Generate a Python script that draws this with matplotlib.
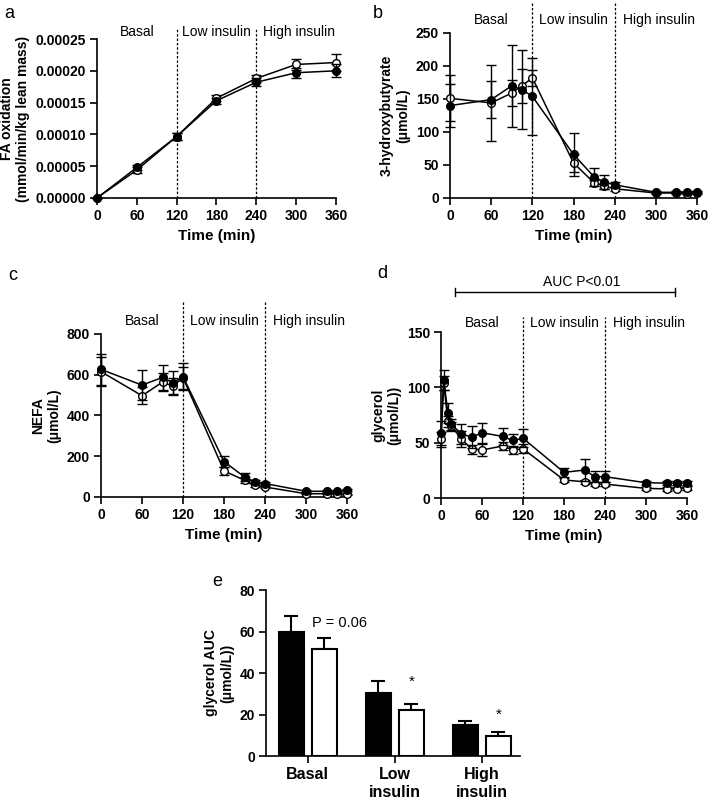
import matplotlib
matplotlib.use('Agg')
import matplotlib.pyplot as plt
from matplotlib.ticker import MultipleLocator, FormatStrFormatter
import numpy as np

plt.rcParams['font.family'] = ['Liberation Sans', 'DejaVu Sans']

# ---- data ----
# a: FA oxidation
t_a = [0, 60, 120, 180, 240, 300, 360]
fa_filled = [0, 0.000048, 0.0000966, 0.000153, 0.000182, 0.000197, 0.0002]
fa_filled_err = [0, 0.000004, 0.000005, 0.000005, 0.000006, 0.000008, 0.00001]
fa_open = [0, 0.000044, 0.0000966, 0.000157, 0.000188, 0.000210, 0.000213]
fa_open_err = [0, 0.000004, 0.000005, 0.000005, 0.000006, 0.000008, 0.000014]

# b: 3-hydroxybutyrate
t_b = [0, 60, 90, 105, 120, 180, 210, 225, 240, 300, 330, 345, 360]
hb_filled = [140, 149, 170, 164, 154, 66, 32, 24, 20, 8.6, 8.6, 9, 8.6]
hb_filled_err = [33, 28, 62, 60, 58, 33, 14, 11, 4, 1.5, 1.5, 1.5, 1.5]
hb_open = [151, 144, 159, 170, 182, 53, 23, 18, 14, 7.5, 7.5, 6.5, 7.5]
hb_open_err = [35, 58, 20, 26, 12, 13, 5, 4, 3, 1, 1, 1, 1]

# c: NEFA
t_c = [0, 60, 90, 105, 120, 180, 210, 225, 240, 300, 330, 345, 360]
nefa_filled = [626, 549, 587, 561, 590, 174, 98, 74, 66, 28, 28, 30, 33]
nefa_filled_err = [75, 75, 62, 59, 66, 28, 20, 10, 8, 4, 4, 4, 4]
nefa_open = [615, 497, 564, 544, 585, 128, 82, 57, 49, 16, 16, 16, 13]
nefa_open_err = [72, 43, 45, 40, 55, 20, 15, 10, 6, 3, 3, 3, 3]

# d: glycerol
t_d = [0, 4, 10, 15, 30, 45, 60, 90, 105, 120, 180, 210, 225, 240, 300, 330, 345, 360]
gly_filled = [59, 107, 77, 66.5, 58, 55, 59, 55.7, 52, 54, 23.2, 25.3, 19.3, 19.3, 13.8, 13.5, 13.5, 13.5]
gly_filled_err = [11, 9, 9, 5, 9, 10, 9, 8, 6, 8, 4, 10, 5, 5, 2, 2, 2, 2]
gly_open = [53, 104, 69.5, 65, 53.3, 44, 43.4, 47, 43.4, 44.5, 16.3, 14.7, 12.6, 12.6, 8.7, 8.3, 8.5, 9]
gly_open_err = [7, 6, 5, 4, 7, 4, 5, 4, 4, 4, 2, 2, 2, 2, 1.5, 1.5, 1.5, 1.5]

# e: glycerol AUC
groups = ['Basal', 'Low\ninsulin', 'High\ninsulin']
auc_filled = [60, 30.5, 15]
auc_filled_err = [7.5, 5.5, 2]
auc_open = [51.5, 22, 9.5]
auc_open_err = [5.5, 3, 2]

phases = ['Basal', 'Low insulin', 'High insulin']
phase_x = [60, 180, 305]

fig = plt.figure(figsize=(7.09, 7.98), dpi=100)


def style(ax):
    for s in ['top', 'right']:
        ax.spines[s].set_visible(False)
    for s in ['left', 'bottom']:
        ax.spines[s].set_linewidth(1.2)
    ax.tick_params(direction='out', length=5, width=1.2, labelsize=10, pad=3)
    for lab in ax.get_xticklabels() + ax.get_yticklabels():
        lab.set_fontweight('bold')


def timecourse(ax, t, yf, ef, yo, eo):
    kw = dict(color='black', lw=1.1, marker='o', ms=5.5, capsize=3.5,
              elinewidth=1, capthick=1, clip_on=False)
    ax.errorbar(t, yo, yerr=eo, mfc='white', mec='black', mew=1, zorder=3, **kw)
    ax.errorbar(t, yf, yerr=ef, mfc='black', mec='black', zorder=4, **kw)
    ax.set_xlim(0, 360)
    ax.xaxis.set_major_locator(MultipleLocator(60))
    ax.set_xlabel('Time (min)', fontsize=11, fontweight='bold', labelpad=4)


def phase_marks(ax, ylab, yline):
    tr = ax.get_xaxis_transform()
    for xv in [120, 240]:
        ax.plot([xv, xv], [0, yline], transform=tr, color='black', lw=0.9,
                ls=(0, (2, 1.5)), clip_on=False, zorder=1)
    for name, xv in zip(phases, phase_x):
        ax.text(xv, ylab, name, transform=tr, ha='center', va='center', fontsize=10)


# a
ax_a = fig.add_axes([0.1368, 0.7519, 0.337, 0.1992])
timecourse(ax_a, t_a, fa_filled, fa_filled_err, fa_open, fa_open_err)
ax_a.set_ylim(0, 0.00025)
ax_a.yaxis.set_major_locator(MultipleLocator(0.00005))
ax_a.yaxis.set_major_formatter(FormatStrFormatter('%.5f'))
ax_a.set_ylabel('FA oxidation\n(mmol/min/kg lean mass)', fontsize=10, fontweight='bold')
phase_marks(ax_a, 1.044, 1.063)
style(ax_a)

# b
ax_b = fig.add_axes([0.6347, 0.7519, 0.3484, 0.2068])
timecourse(ax_b, t_b, hb_filled, hb_filled_err, hb_open, hb_open_err)
ax_b.set_ylim(0, 250)
ax_b.yaxis.set_major_locator(MultipleLocator(50))
ax_b.set_ylabel('3-hydroxybutyrate\n(\u03bcmol/L)', fontsize=10, fontweight='bold')
phase_marks(ax_b, 1.079, 1.19)
style(ax_b)

# c
ax_c = fig.add_axes([0.1425, 0.3772, 0.347, 0.2043])
timecourse(ax_c, t_c, nefa_filled, nefa_filled_err, nefa_open, nefa_open_err)
ax_c.set_ylim(0, 800)
ax_c.yaxis.set_major_locator(MultipleLocator(200))
ax_c.set_ylabel('NEFA\n(\u03bcmol/L)', fontsize=10, fontweight='bold')
phase_marks(ax_c, 1.08, 1.196)
style(ax_c)

# d
ax_d = fig.add_axes([0.622, 0.3759, 0.347, 0.208])
timecourse(ax_d, t_d, gly_filled, gly_filled_err, gly_open, gly_open_err)
ax_d.set_ylim(0, 150)
ax_d.yaxis.set_major_locator(MultipleLocator(50))
ax_d.set_ylabel('glycerol\n(\u03bcmol/L))', fontsize=10, fontweight='bold')
phase_marks(ax_d, 1.054, 1.09)
trd = ax_d.get_xaxis_transform()
ax_d.plot([20.5, 342.5], [1.24, 1.24], transform=trd, color='black', lw=1, clip_on=False)
for xv in [20.5, 342.5]:
    ax_d.plot([xv, xv], [1.215, 1.265], transform=trd, color='black', lw=1, clip_on=False)
ax_d.text(206, 1.30, 'AUC P<0.01', transform=trd, ha='center', va='center', fontsize=10)
style(ax_d)

# e
ax_e = fig.add_axes([0.3752, 0.0526, 0.3582, 0.208])
xg = np.arange(len(groups))
w = 0.29
off = 0.19
ax_e.bar(xg - off, auc_filled, w, color='black', edgecolor='black', lw=1.5, zorder=2)
ax_e.bar(xg + off, auc_open, w, color='white', edgecolor='black', lw=1.5, zorder=2)
ax_e.errorbar(xg - off, auc_filled, yerr=[[0] * 3, auc_filled_err], fmt='none',
              ecolor='black', elinewidth=1.5, capsize=5, capthick=1.5, zorder=1)
ax_e.errorbar(xg + off, auc_open, yerr=[[0] * 3, auc_open_err], fmt='none',
              ecolor='black', elinewidth=1.5, capsize=5, capthick=1.5, zorder=1)
ax_e.text(0 + off - 0.14, 64, 'P = 0.06', ha='left', va='center', fontsize=10.5)
for i, yv in [(1, 35.7), (2, 19.8)]:
    ax_e.text(i + off, yv, '*', ha='center', va='center', fontsize=11)
ax_e.set_xlim(-0.48, 2.44)
ax_e.set_ylim(0, 80)
ax_e.yaxis.set_major_locator(MultipleLocator(20))
ax_e.set_xticks(xg)
ax_e.set_xticklabels(groups)
ax_e.set_ylabel('glycerol AUC\n(\u03bcmol/L))', fontsize=10, fontweight='bold')
style(ax_e)
ax_e.tick_params(axis='x', labelsize=11.5)

# panel letters
for lx, ly, s in [(4, 14, 'a'), (373, 13, 'b'), (8, 275, 'c'), (377, 273, 'd'), (212, 581, 'e')]:
    fig.text(lx / 709, 1 - ly / 798, s, fontsize=13, ha='left', va='center')

fig.savefig('out.png', dpi=100)
